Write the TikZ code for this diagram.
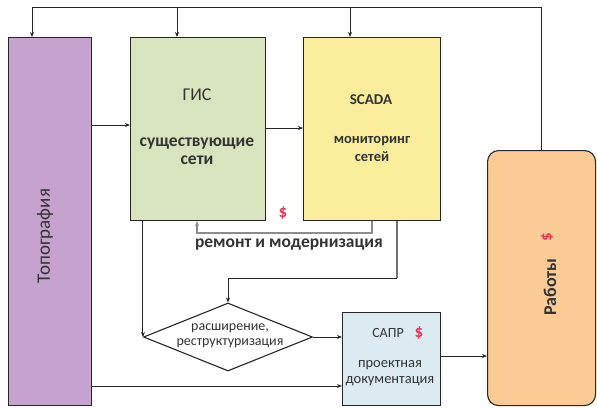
\documentclass[tikz,border=0pt]{standalone}
\usepackage{fontspec}
\setmainfont{Carlito}
\usetikzlibrary{arrows.meta,shapes.geometric}
\definecolor{topo}{HTML}{C6A3CF}
\definecolor{gisc}{HTML}{D8E4BE}
\definecolor{scadac}{HTML}{FAEE9C}
\definecolor{rabc}{HTML}{FBCB95}
\definecolor{saprc}{HTML}{DCEAF2}
\definecolor{dollar}{HTML}{E8384F}
\newcommand{\fs}[2]{\fontsize{#1}{#2}\selectfont}
\begin{document}
\begin{tikzpicture}[x=1pt,y=-1pt,
  box/.style={draw=black!85,line width=1.1pt,inner sep=0pt,anchor=north west},
  lbl/.style={inner sep=0pt,align=center,text=black!80},
  conn/.style={draw=black!85,line width=1pt,-{Stealth[length=5pt,width=4pt]}},
  plain/.style={draw=black!85,line width=1pt},
  grayconn/.style={draw=black!45,line width=1.2pt,-{Stealth[length=5pt,width=4pt]}},
  money/.style={inner sep=0pt,text=dollar,font=\bfseries\fs{17}{18}}]
\useasboundingbox (0,0) rectangle (597,408);
% boxes
\node[box,fill=topo,minimum width=83pt,minimum height=368pt] (topo) at (8,37) {};
\node[box,fill=gisc,minimum width=135pt,minimum height=183pt] (gis) at (130,37) {};
\node[box,fill=scadac,minimum width=137pt,minimum height=183pt] (scada) at (303,37) {};
\node[box,fill=rabc,rounded corners=11pt,minimum width=108pt,minimum height=255pt] (rab) at (487,150) {};
\node[box,fill=saprc,minimum width=98pt,minimum height=93pt] (sapr) at (342,312) {};
\node[diamond,draw=black!85,line width=1.1pt,fill=white,inner sep=0pt,minimum width=169pt,minimum height=68pt] (dia) at (228,337) {};
% texts
\node[lbl,rotate=90,font=\fs{19}{20}] (ttopo) at (45,236) {Топография};
\node[lbl,font=\fs{18}{20}] (tgis) at (197,95) {ГИС};
\node[lbl,font=\bfseries\fs{17.5}{18}] (tgis2) at (197,151) {существующие\\сети};
\node[lbl,font=\bfseries\fs{15}{18}] (tscada) at (371,100) {SCADA};
\node[lbl,font=\bfseries\fs{14.5}{18}] (tscada2) at (372,149) {мониторинг\\сетей};
\node[lbl,rotate=90,font=\bfseries\fs{18}{20}] (trab) at (550,287) {Работы};
\node[money,rotate=90] (drab) at (547,237) {\$};
\node[money] (dgis) at (283,213) {\$};
\node[lbl,font=\bfseries\fs{17.5}{18}] (trem) at (289,245) {ремонт и модернизация};
\node[lbl,font=\fs{14}{15}] (tdia) at (230,336) {расширение,\\реструктуризация};
\node[lbl,font=\fs{14}{16}] (tsapr) at (388,333) {САПР};
\node[money] (dsapr) at (419,333) {\$};
\node[lbl,font=\fs{14.5}{16}] (tsapr2) at (390,373) {проектная\\документация};
% top feedback line
\coordinate (tl) at (32,7);
\coordinate (tg) at (177,7);
\coordinate (ts) at (350,7);
\draw[plain] (rab.north) -- (rab.north |- tl) -- (tl);
\draw[conn] (tl) -- (tl |- topo.north);
\draw[conn] (tg) -- (tg |- gis.north);
\draw[conn] (ts) -- (ts |- scada.north);
% horizontal flows
\coordinate (r1) at (0,125);
\coordinate (r2) at (0,128);
\draw[conn] (topo.east |- r1) -- (gis.west |- r1);
\draw[conn] (gis.east |- r2) -- (scada.west |- r2);
% repair loop
\coordinate (ra) at (372,233);
\coordinate (rb) at (197,233);
\draw[grayconn] (scada.south -| ra) -- (ra) -- (rb) -- (gis.south -| rb);
% expansion line
\coordinate (ea) at (397,278);
\draw[draw=black!55,line width=1.2pt] (scada.south -| ea) -- (ea);
\draw[conn] (ea) -- (dia.north |- ea) -- (dia.north);
\draw[conn] (gis.south -| dia.west) -- (dia.west);
\draw[conn] (dia.east) -- (sapr.west |- dia.east);
\coordinate (r3) at (0,386);
\draw[conn] (topo.east |- r3) -- (sapr.west |- r3);
\coordinate (r4) at (0,356);
\draw[conn] (sapr.east |- r4) -- (rab.west |- r4);
\end{tikzpicture}
\end{document}
